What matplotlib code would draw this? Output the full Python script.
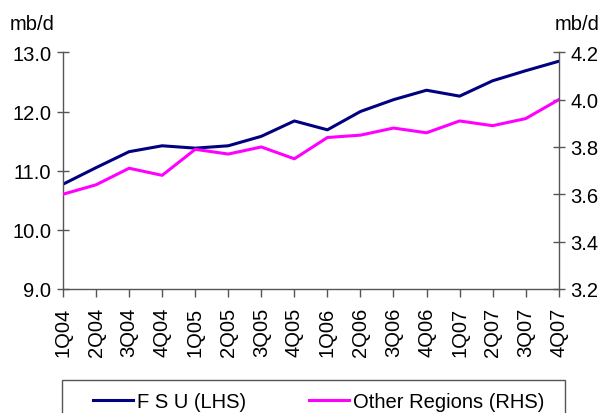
import matplotlib
matplotlib.use("Agg")
import matplotlib.pyplot as plt
from matplotlib.patches import Rectangle

quarters = ["1Q04", "2Q04", "3Q04", "4Q04", "1Q05", "2Q05", "3Q05", "4Q05",
            "1Q06", "2Q06", "3Q06", "4Q06", "1Q07", "2Q07", "3Q07", "4Q07"]
fsu = [10.77, 11.05, 11.32, 11.42, 11.38, 11.42, 11.58, 11.84,
       11.69, 12.00, 12.20, 12.36, 12.26, 12.52, 12.69, 12.85]
other = [3.60, 3.64, 3.71, 3.68, 3.79, 3.77, 3.80, 3.75,
         3.84, 3.85, 3.88, 3.86, 3.91, 3.89, 3.92, 4.00]
left_ticks = [9.0, 10.0, 11.0, 12.0, 13.0]
right_ticks = [3.2, 3.4, 3.6, 3.8, 4.0, 4.2]

plt.rcParams['font.family'] = ['Liberation Sans', 'DejaVu Sans']
fs = 14.5
axcol = '#555555'
W, H = 606, 414

fig = plt.figure(figsize=(6.06, 4.14), dpi=100)
ax = fig.add_axes([0.104, 0.300, 0.818, 0.571])
ax2 = ax.twinx()

x = list(range(len(quarters)))
l1, = ax.plot(x, fsu, color='#000080', lw=2.2, label='F S U (LHS)')
l2, = ax2.plot(x, other, color='#FF00FF', lw=2.2, label='Other Regions (RHS)')

ax.set_xlim(0, len(quarters) - 1)
ax.set_ylim(9.0, 13.0)
ax2.set_ylim(3.2, 4.2)
ax.set_yticks(left_ticks)
ax.set_yticklabels([f"{v:.1f}" for v in left_ticks], fontsize=fs)
ax2.set_yticks(right_ticks)
ax2.set_yticklabels([f"{v:.1f}" for v in right_ticks], fontsize=fs)
ax.set_xticks(x)
ax.set_xticklabels(quarters, rotation=90, fontsize=fs)

for a in (ax, ax2):
    a.spines['top'].set_visible(False)
    for s in ('left', 'right', 'bottom'):
        a.spines[s].set_color(axcol)
        a.spines[s].set_linewidth(1.0)
ax.spines['right'].set_visible(False)
ax2.spines['left'].set_visible(False)
ax2.spines['bottom'].set_visible(False)

ax.tick_params(axis='y', direction='inout', length=9, width=1, color=axcol, pad=4)
ax2.tick_params(axis='y', direction='inout', length=9, width=1, color=axcol, pad=4)
ax.tick_params(axis='x', direction='out', length=6, width=1, color=axcol, pad=7)

fig.text(10/W, 1 - 25/H, 'mb/d', fontsize=fs, ha='left', va='center')
fig.text(600/W, 1 - 25/H, 'mb/d', fontsize=fs, ha='right', va='center')

# legend frame (extends past the bottom of the figure)
fig.patches.append(Rectangle((62/W, -0.05), (565-62)/W, 0.05 + 1 - 381/H,
                             transform=fig.transFigure, fill=False,
                             edgecolor=axcol, lw=1.0))
leg = fig.legend(handles=[l1, l2], loc='center left', ncol=2,
                 bbox_to_anchor=(93/W, 1 - 403/H),
                 fontsize=fs, frameon=False,
                 handlelength=2.0, handletextpad=0.2, borderpad=0.0,
                 columnspacing=3.1, borderaxespad=0)

fig.savefig('out.png', dpi=100)
